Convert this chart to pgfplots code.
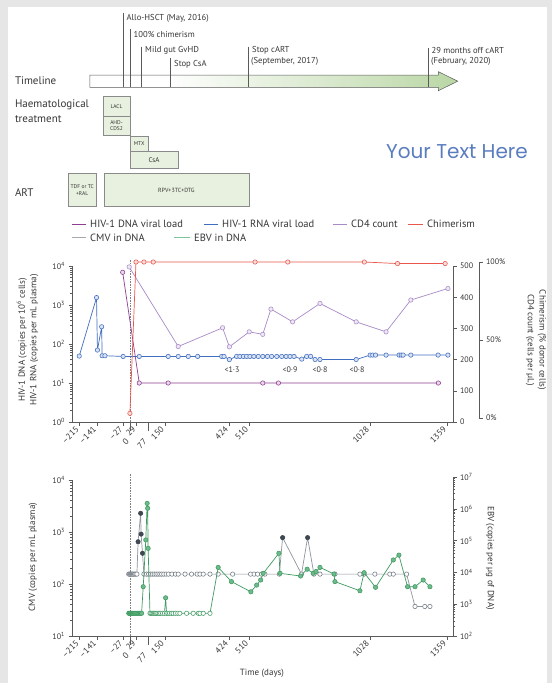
\documentclass[border=0pt]{standalone}
\usepackage{pgfplots}
\pgfplotsset{compat=1.18}
\usepackage{fontspec}
\setmainfont{PT Sans}
\newfontfamily\wmfont{Poppins}
\definecolor{bg}{HTML}{E6E6E6}
\definecolor{txt}{HTML}{363636}
\definecolor{axc}{HTML}{5A5A5A}
\definecolor{dnac}{HTML}{8E3D92}
\definecolor{rnac}{HTML}{3F6DBF}
\definecolor{cdc}{HTML}{A98AC9}
\definecolor{chc}{HTML}{E8564C}
\definecolor{cmvc}{HTML}{8E959C}
\definecolor{cmvd}{HTML}{3E4852}
\definecolor{cmvm}{HTML}{6F7880}
\definecolor{ebvc}{HTML}{3F9A62}
\definecolor{ebvl}{HTML}{7CC49A}
\definecolor{ebvf}{HTML}{6DBA8A}
\definecolor{boxf}{HTML}{E8F1DF}
\definecolor{boxd}{HTML}{8A8A8A}
\definecolor{arrg}{HTML}{B9D6A4}
\definecolor{wm}{HTML}{5A7DC0}
\newcommand{\fA}{\fontsize{8}{9.6}\selectfont}
\newcommand{\fXT}{\fontsize{8.6}{10}\selectfont}
\newcommand{\fB}{\fontsize{9}{11.6}\selectfont}
\newcommand{\fC}{\fontsize{10.5}{12}\selectfont}
\newcommand{\fT}{\fontsize{8.6}{10.8}\selectfont}
\newcommand{\fS}{\fontsize{11}{14.6}\selectfont}
\newcommand{\fX}{\fontsize{5.5}{6.3}\selectfont}
\pgfplotsset{
  base/.style={scale only axis, width=381pt, height=156pt, xmin=-248, xmax=1383.7,
    axis line style={axc, line width=0.6pt}, tick style={axc, line width=0.5pt},
    major tick length=3.5pt, minor tick length=2pt,
    ticklabel style={font=\fA, text=txt}, clip=false},
  xt/.style={axis x line*=bottom, tick align=outside,
    xtick={-215,-141,-27,29,150,424,510,1028,1359},
    xticklabels={–215,–141,–27,29,150,424,510,1028,1359},
    xticklabel style={rotate=45, anchor=east, font=\fXT},
    extra x ticks={0,77}, extra x tick labels={0,77},
    extra x tick style={major tick length=9pt, tick label style={yshift=-7pt}}},
  mk/.style={mark=*, mark size=2.2pt, mark options={solid, fill=#1!20, draw=#1, line width=0.55pt}},
}
\begin{document}
\begin{tikzpicture}[x=1pt,y=1pt]
\path[use as bounding box] (0,0) rectangle (552,-683);
\fill[bg] (0,0) rectangle (552,-683);
\fill[white] (8,-7) rectangle (547,-683);

% ---------------- timeline ----------------
\def\arrowpath{(89.8,-75) -- (438.4,-75) -- (438.4,-71.7) -- (457.7,-81.2) -- (438.4,-90.7) -- (438.4,-87.3) -- (89.8,-87.3) -- cycle}
\fill[white] \arrowpath;
\begin{scope}
\clip \arrowpath;
\shade[left color=white, right color=arrg] (165,-68) rectangle (460,-94);
\end{scope}
\draw[axc, line width=0.5pt] \arrowpath;
\begin{scope}[axc, line width=0.5pt]
\draw (123.2,-13.3) -- (123.2,-87.3);
\draw (130.3,-29.3) -- (130.3,-87.3);
\draw (141.5,-46.7) -- (141.5,-87.3);
\draw (170,-58.3) -- (170,-87.3);
\draw (248.2,-46.7) -- (248.2,-87.3);
\draw (427.8,-48.3) -- (427.8,-87.3);
\end{scope}
\begin{scope}[every node/.style={anchor=west, font=\fT, text=txt, inner sep=0pt}]
\node at (126.5,-18.3) {Allo-HSCT (May, 2016)};
\node at (133.5,-34) {100\% chimerism};
\node at (145,-50.7) {Mild gut GvHD};
\node at (174,-64.3) {Stop CsA};
\node at (252,-50.7) {Stop cART};
\node at (251,-61.7) {(September, 2017)};
\node at (431.5,-50.7) {29 months off cART};
\node at (431,-61.7) {(February, 2020)};
\end{scope}
\begin{scope}[every node/.style={anchor=west, font=\fS, text=txt, inner sep=0pt}]
\node at (14.8,-80.7) {Timeline};
\node at (14.8,-104.7) {Haematological};
\node at (14.8,-119.3) {treatment};
\node at (14.8,-193) {ART};
\end{scope}
\begin{scope}[boxd, line width=0.5pt]
\draw[fill=boxf] (102.8,-96.7) rectangle (130.3,-116);
\draw[fill=boxf] (102.8,-116) rectangle (130.3,-135);
\draw[fill=boxf] (130.3,-136) rectangle (147.9,-151.7);
\draw[fill=boxf] (130.3,-151.7) rectangle (177.8,-168.3);
\draw[fill=boxf] (68.7,-173.3) rectangle (95.8,-206.7);
\draw[fill=boxf] (103.9,-173.3) rectangle (249,-206.7);
\end{scope}
\begin{scope}[every node/.style={font=\fX, text=txt, inner sep=0pt, align=center}]
\node at (116.5,-106.3) {LACL};
\node at (116.5,-125.5) {AHD-\\CDS2};
\node at (139.1,-143.8) {MTX};
\node[font=\fontsize{7}{8}\selectfont] at (154,-160) {CsA};
\node at (82.2,-190) {TDF or TC\\+RAL};
\node[font=\fontsize{6}{7}\selectfont] at (176.4,-190) {RPV+3TC+DTG};
\end{scope}
\node[anchor=west, inner sep=0pt, text=wm, font=\wmfont\fontsize{20}{22}\selectfont] at (386,-151.7) {Your Text Here};

% ---------------- legend ----------------
\begin{scope}[every node/.style={anchor=west, font=\fC, text=txt, inner sep=0pt}]
\draw[dnac, line width=0.9pt] (72,-224) -- (86,-224); \node at (90,-224) {HIV-1 DNA viral load};
\draw[rnac, line width=0.9pt] (203.5,-224) -- (218,-224); \node at (222,-224) {HIV-1 RNA viral load};
\draw[cdc, line width=0.9pt] (333,-224) -- (347,-224); \node at (351,-224) {CD4 count};
\draw[chc, line width=0.9pt] (408,-224) -- (422.5,-224); \node at (427,-224) {Chimerism};
\draw[cmvc!80, line width=0.9pt] (72,-237.5) -- (86,-237.5); \node at (90,-237.5) {CMV in DNA};
\draw[ebvl, line width=0.9pt] (174,-237.5) -- (190,-237.5); \node at (194,-237.5) {EBV in DNA};
\end{scope}

% ---------------- top panel ----------------
\begin{axis}[base, xt, at={(72pt,-422pt)}, anchor=south west,
  ymode=log, ymin=1, ymax=1e4, axis y line*=left, tick align=outside,
  ytick={1,10,100,1000,10000},
  yticklabels={10\textsuperscript{0},10\textsuperscript{1},10\textsuperscript{2},10\textsuperscript{3},10\textsuperscript{4}}]
\addplot[gray, densely dotted, line width=0.6pt] coordinates {(0,1) (0,1.4e4)};
\addplot[rnac, line width=0.7pt, mk=rnac] coordinates {
(-217,49) (-143,1550) (-139,70) (-121,277) (-119,50) (-107,50) (-29,48) (40,48) (164,48) (207,48) (250,48) (290,48)
(393,48) (403,48) (426,40) (457,48) (471,48) (486,48) (500,48) (514,48) (531,48) (550,48) (569,48) (589,48)
(607,48) (629,48) (650,48) (669,48) (686,48) (703,48) (736,41) (757,48) (774,48) (793,40) (814,40) (969,40)
(1029,52) (1040,52) (1052,52) (1097,52) (1153,52) (1162,52) (1170,52) (1203,52) (1320,52) (1362,52)};
\addplot[dnac, line width=0.7pt, mk=dnac] coordinates {
(-31,6900) (40,10) (164,10) (569,10) (636,10) (1321,10)};
\end{axis}
\node[rotate=90, align=center, font=\fB, text=txt] at (27.5,-340) {HIV-1 DNA (copies per 10\textsuperscript{6} cells)\\HIV-1 RNA (copies per mL plasma)};

\begin{axis}[base, at={(72pt,-422pt)}, anchor=south west,
  ymin=0, ymax=500, axis y line*=right, axis x line=none, xtick=\empty, tick align=outside,
  ytick={0,100,200,300,400,500}, yticklabels={0,100,200,300,400,500}]
\addplot[cdc, line width=0.7pt, mk=cdc] coordinates {
(-3,497) (207,242) (397,302) (426,241) (511,289) (569,281) (604,362) (697,321) (814,380) (969,321) (1097,289) (1203,391) (1362,428)};
\end{axis}

\begin{axis}[scale only axis, width=407pt, height=156pt, at={(72pt,-418pt)}, anchor=south west,
  xmin=-248, xmax=1495, ymin=0, ymax=100, clip=false,
  axis y line*=right, axis x line=none, xtick=\empty, tick align=outside,
  axis line style={axc, line width=0.6pt}, tick style={axc, line width=0.5pt}, major tick length=3.5pt,
  ticklabel style={font=\fA, text=txt},
  ytick={0,50,100}, yticklabels={0\%,50\%,100\%}]
\addplot[chc, line width=0.7pt, mk=chc] coordinates {
(0,3) (26,100) (60,100) (100,100) (536,100) (676,100) (1004,100) (1146,99) (1350,99)};
\end{axis}
\node[rotate=-90, align=center, font=\fB, text=txt] at (536,-340) {Chimerism (\% donor cells)\\CD4 count (cells per µL)};

% ---------------- bottom panel ----------------
\begin{axis}[base, xt, at={(72pt,-636pt)}, anchor=south west,
  ymode=log, ymin=10, ymax=1e4, axis y line*=left, tick align=outside,
  ytick={10,100,1000,10000},
  yticklabels={10\textsuperscript{1},10\textsuperscript{2},10\textsuperscript{3},10\textsuperscript{4}}]
\addplot[gray, densely dotted, line width=0.6pt] coordinates {(0,10) (0,1.35e4)};
\addplot[cmvc, line width=0.7pt] coordinates {
(-5,155) (-1,155) (3,155) (7,155) (11,155) (15,155) (20,155) (25,155) (30,155) (35,650) (46,2290) (48,910) (54,390)
(60,155) (71,155) (80,155) (88,155) (96,155) (104,155) (112,155) (120,155) (128,155) (136,155) (145,155) (155,155)
(165,155) (180,155) (195,155) (207,155) (236,155) (264,155) (288,155) (300,155) (314,155) (343,155) (378,155)
(440,155) (517,155) (532,155) (547,155) (564,155) (578,155) (640,155) (654,780) (735,155) (761,780) (788,155)
(814,155) (878,155) (985,155) (1003,155) (1049,155) (1113,155) (1128,155) (1185,155) (1221,37) (1263,37) (1285,37)};
\addplot[only marks, mark=*, mark size=2.2pt, mark options={fill=white, draw=cmvm, line width=0.55pt}] coordinates {
(-5,155) (-1,155) (3,155) (7,155) (11,155) (15,155) (20,155) (25,155) (30,155)
(60,155) (71,155) (80,155) (88,155) (96,155) (104,155) (112,155) (120,155) (128,155) (136,155) (145,155) (155,155)
(165,155) (180,155) (195,155) (207,155) (236,155) (264,155) (288,155) (300,155) (314,155) (343,155) (378,155)
(440,155) (517,155) (532,155) (547,155) (564,155) (578,155) (640,155) (735,155) (788,155)
(814,155) (878,155) (985,155) (1003,155) (1049,155) (1113,155) (1128,155) (1185,155) (1221,37) (1263,37) (1285,37)};
\addplot[only marks, mark=*, mark size=2.2pt, mark options={fill=cmvd, draw=cmvd, line width=0.55pt}] coordinates {
(35,650) (46,2290) (48,910) (54,390) (654,780) (761,780)};
\end{axis}
\node[rotate=90, font=\fB, text=txt] at (33,-557) {CMV (copies per mL plasma)};
\node[font=\fB, text=txt] at (262,-673) {Time (days)};

\begin{axis}[base, height=159pt, at={(72pt,-636pt)}, anchor=south west,
  ymode=log, ymin=100, ymax=1e7, axis y line*=right, axis x line=none, xtick=\empty, tick align=outside,
  ytick={100,1000,10000,100000,1000000,10000000},
  yticklabels={10\textsuperscript{2},10\textsuperscript{3},10\textsuperscript{4},10\textsuperscript{5},10\textsuperscript{6},10\textsuperscript{7}}]
\addplot[ebvc, line width=0.7pt] coordinates {
(-5,518) (-1,518) (3,518) (7,518) (11,518) (15,518) (20,518) (25,518) (30,518) (35,518) (40,518) (45,518) (50,518)
(57,3550) (68,1.05e5) (74,1.48e6) (76,1.04e6) (78,5.7e4) (86,518) (90,518) (95,518) (100,518) (105,518) (110,518)
(115,518) (120,518) (126,518) (132,518) (140,518) (148,518) (153,1590) (157,518) (163,518) (170,518) (178,518)
(185,518) (195,518) (205,518) (214,518) (243,518) (271,518) (293,518) (300,518) (314,518) (343,518)
(378,1.44e4) (435,5130) (518,2460) (543,4000) (560,5760) (571,9360) (638,4.0e4) (643,9360) (731,7700)
(759,1.26e4) (785,9400) (797,1.06e4) (814,1.44e4) (874,8900) (878,5130) (985,2650) (1003,9800) (1052,3400)
(1128,2.46e4) (1152,3.5e4) (1189,3550) (1221,3550) (1256,5760) (1285,3550)};
\addplot[only marks, mark=*, mark size=2.2pt, mark options={fill=white, draw=ebvc, line width=0.55pt}] coordinates {
(86,518) (90,518) (95,518) (100,518) (105,518) (110,518)
(115,518) (120,518) (126,518) (132,518) (140,518) (148,518) (157,518) (163,518) (170,518) (178,518)
(185,518) (195,518) (205,518) (214,518) (243,518) (271,518) (293,518) (300,518) (314,518) (343,518)};
\addplot[only marks, mark=*, mark size=2.2pt, mark options={fill=ebvf, draw=ebvc, line width=0.55pt}] coordinates {
(-5,518) (-1,518) (3,518) (7,518) (11,518) (15,518) (20,518) (25,518) (30,518) (35,518) (40,518) (45,518) (50,518)
(57,3550) (68,1.05e5) (74,1.48e6) (76,1.04e6) (78,5.7e4) (153,1590)
(378,1.44e4) (435,5130) (518,2460) (543,4000) (560,5760) (571,9360) (638,4.0e4) (643,9360) (731,7700)
(759,1.26e4) (785,9400) (797,1.06e4) (814,1.44e4) (874,8900) (878,5130) (985,2650) (1003,9800) (1052,3400)
(1128,2.46e4) (1152,3.5e4) (1189,3550) (1221,3550) (1256,5760) (1285,3550)};
\end{axis}
\node[rotate=-90, font=\fB, text=txt] at (490,-558) {EBV (copies per µg of DNA)};

% annotations
\begin{scope}[every node/.style={font=\fA, text=txt, inner sep=0pt}]
\node at (232,-370) {<1·3};
\node at (290,-370) {<0·9};
\node at (320,-370) {<0·8};
\node at (357,-370) {<0·8};
\end{scope}
\end{tikzpicture}
\end{document}
